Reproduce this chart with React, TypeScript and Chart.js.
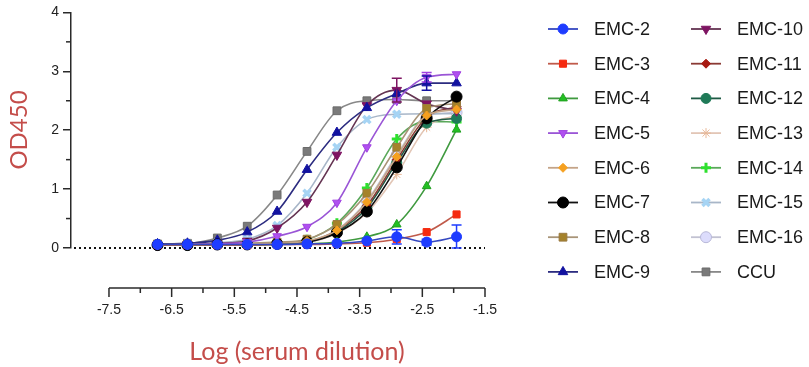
import { useEffect, useRef } from "react";
import { Chart, registerables } from "chart.js";
import { drawPoint } from "chart.js/helpers";
Chart.register(...registerables);

// log10 of serum dilution (1/90, 3-fold series)
const logDilution = [-6.725, -6.248, -5.771, -5.294, -4.817, -4.34, -3.863, -3.385, -2.908, -2.431, -1.954];
const xMajorTicks = [-7.5, -6.5, -5.5, -4.5, -3.5, -2.5, -1.5];
const xMinorTicks = [-7, -6, -5, -4, -3, -2];
const yMinorTicks = [0.5, 1.5, 2.5, 3.5];

const emc2 = [0.06, 0.06, 0.06, 0.06, 0.06, 0.07, 0.08, 0.12, 0.19, 0.1, 0.19];
const emc3 = [0.05, 0.05, 0.05, 0.05, 0.06, 0.06, 0.07, 0.09, 0.15, 0.27, 0.57];
const emc4 = [0.05, 0.05, 0.05, 0.05, 0.06, 0.07, 0.1, 0.19, 0.4, 1.05, 2.01];
const emc5 = [0.05, 0.06, 0.07, 0.1, 0.2, 0.36, 0.77, 1.71, 2.5, 2.9, 2.95];
const emc6 = [0.05, 0.05, 0.06, 0.07, 0.08, 0.12, 0.3, 0.78, 1.55, 2.25, 2.35];
const emc7 = [0.05, 0.05, 0.06, 0.06, 0.07, 0.1, 0.26, 0.62, 1.37, 2.2, 2.57];
const emc8 = [0.06, 0.06, 0.07, 0.08, 0.1, 0.15, 0.4, 0.93, 1.71, 2.37, 2.45];
const emc9 = [0.07, 0.08, 0.13, 0.27, 0.62, 1.33, 1.96, 2.38, 2.62, 2.8, 2.8];
const emc10 = [0.05, 0.06, 0.08, 0.12, 0.34, 0.78, 1.58, 2.42, 2.68, 2.45, 2.33];
const emc11 = [0.05, 0.05, 0.06, 0.07, 0.08, 0.11, 0.3, 0.72, 1.5, 2.22, 2.4];
const emc12 = [0.05, 0.05, 0.06, 0.07, 0.08, 0.11, 0.28, 0.68, 1.45, 2.12, 2.2];
const emc13 = [0.05, 0.05, 0.06, 0.07, 0.08, 0.1, 0.25, 0.6, 1.25, 2.05, 2.25];
const emc14 = [0.05, 0.05, 0.06, 0.07, 0.08, 0.14, 0.42, 1.02, 1.85, 2.15, 2.14];
const emc15 = [0.06, 0.07, 0.09, 0.15, 0.38, 0.93, 1.71, 2.18, 2.27, 2.28, 2.28];
const emc16 = [0.05, 0.05, 0.06, 0.07, 0.08, 0.11, 0.31, 0.8, 1.58, 2.24, 2.3];
const ccu = [0.07, 0.08, 0.17, 0.37, 0.9, 1.64, 2.33, 2.5, 2.52, 2.5, 2.5];

// error (SD) per point, 0 = none
const emc2Err = [0, 0, 0, 0, 0, 0, 0, 0, 0.12, 0.05, 0.2];
const emc9Err = [0, 0, 0, 0, 0, 0, 0, 0, 0, 0.12, 0];
const emc10Err = [0, 0, 0, 0, 0, 0, 0, 0, 0.2, 0, 0];
const emc5Err = [0, 0, 0, 0, 0, 0, 0, 0, 0, 0.08, 0];

type S = {
  label: string; values: number[]; err?: number[];
  fill: string; stroke: string; line: string; style: string; rot?: number; r?: number; bw?: number;
};

const series: S[] = [
  { label: "EMC-2", values: emc2, err: emc2Err, fill: "#1e3cff", stroke: "#1e3cff", line: "#3548c0", style: "circle" },
  { label: "EMC-3", values: emc3, fill: "#f52a10", stroke: "#f52a10", line: "#c05a4a", style: "rect" },
  { label: "EMC-4", values: emc4, fill: "#22c022", stroke: "#22a022", line: "#3f9a3f", style: "triangle" },
  { label: "EMC-5", values: emc5, err: emc5Err, fill: "#b050f0", stroke: "#a040e0", line: "#9a55d6", style: "triangle", rot: 180 },
  { label: "EMC-6", values: emc6, fill: "#f5a020", stroke: "#f5a020", line: "#c4a488", style: "rectRot", r: 4.5 },
  { label: "EMC-7", values: emc7, fill: "#000000", stroke: "#000000", line: "#111111", style: "circle", r: 5.5 },
  { label: "EMC-8", values: emc8, fill: "#a5822a", stroke: "#9a7a40", line: "#a89478", style: "rect", r: 5.5 },
  { label: "EMC-9", values: emc9, err: emc9Err, fill: "#1212a0", stroke: "#1212a0", line: "#2c2c80", style: "triangle", r: 5.5 },
  { label: "EMC-10", values: emc10, err: emc10Err, fill: "#7e1462", stroke: "#7e1462", line: "#643452", style: "triangle", rot: 180, r: 5.5 },
  { label: "EMC-11", values: emc11, fill: "#a81a12", stroke: "#a81a12", line: "#8a3a34", style: "rectRot", r: 4.5 },
  { label: "EMC-12", values: emc12, fill: "#1f7a58", stroke: "#1f7a58", line: "#1e5a44", style: "circle" },
  { label: "EMC-13", values: emc13, fill: "#f2c2a6", stroke: "#e8b898", line: "#e2c6b6", style: "star" },
  { label: "EMC-14", values: emc14, fill: "#2ee02e", stroke: "#2ee02e", line: "#5aa85a", style: "cross", bw: 3 },
  { label: "EMC-15", values: emc15, fill: "#a6d4f4", stroke: "#a6d4f4", line: "#a8b6c8", style: "crossRot", bw: 3.5 },
  { label: "EMC-16", values: emc16, fill: "#dcdcfc", stroke: "#b8b8d8", line: "#c2c2d2", style: "circle", r: 5.5 },
  { label: "CCU", values: ccu, fill: "#7a7a7a", stroke: "#6a6a6a", line: "#888888", style: "rect", r: 5.5 },
];

const RED = "#c44d4a";
const AXIS = "#2a2a2a";

export default function App() {
  const ref = useRef<HTMLCanvasElement | null>(null);
  useEffect(() => {
    document.body.style.margin = "0";
    const canvas = ref.current!;
    const customPlugin = {
      id: "custom",
      beforeDatasetsDraw(chart: any) {
        const { ctx, scales } = chart;
        const x = scales.x, y = scales.y;
        ctx.save();
        ctx.strokeStyle = "#111";
        ctx.lineWidth = 2;
        ctx.setLineDash([2, 3]);
        const yy = y.getPixelForValue(0);
        ctx.beginPath();
        ctx.moveTo(chart.chartArea.left + 3, yy);
        ctx.lineTo(x.getPixelForValue(-1.5), yy);
        ctx.stroke();
        ctx.restore();
      },
      afterDatasetsDraw(chart: any) {
        const { ctx, scales } = chart;
        const x = scales.x, y = scales.y;
        ctx.save();
        chart.data.datasets.forEach((ds: any, di: number) => {
          const err = series[di].err;
          if (!err) return;
          ctx.strokeStyle = series[di].stroke;
          ctx.lineWidth = 1.5;
          err.forEach((e, i) => {
            if (!e) return;
            const px = x.getPixelForValue(logDilution[i]);
            const v = series[di].values[i];
            const top = y.getPixelForValue(v + e);
            const bot = y.getPixelForValue(Math.max(0, v - e));
            ctx.beginPath();
            ctx.moveTo(px, top); ctx.lineTo(px, bot);
            ctx.moveTo(px - 5, top); ctx.lineTo(px + 5, top);
            ctx.moveTo(px - 5, bot); ctx.lineTo(px + 5, bot);
            ctx.stroke();
          });
        });
        ctx.restore();
      },
      afterDraw(chart: any) {
        const { ctx, scales } = chart;
        const x = scales.x, y = scales.y;
        ctx.save();
        ctx.strokeStyle = AXIS;
        ctx.lineWidth = 1.5;
        const yl = chart.chartArea.left;
        yMinorTicks.forEach((v) => {
          const py = y.getPixelForValue(v);
          ctx.beginPath(); ctx.moveTo(yl - 5, py); ctx.lineTo(yl, py); ctx.stroke();
        });
        const ax = 288;
        ctx.beginPath();
        ctx.moveTo(x.getPixelForValue(-7.5), ax);
        ctx.lineTo(x.getPixelForValue(-1.5), ax);
        ctx.stroke();
        xMajorTicks.forEach((v) => {
          const px = x.getPixelForValue(v);
          ctx.beginPath(); ctx.moveTo(px, ax); ctx.lineTo(px, ax + 9); ctx.stroke();
        });
        xMinorTicks.forEach((v) => {
          const px = x.getPixelForValue(v);
          ctx.beginPath(); ctx.moveTo(px, ax); ctx.lineTo(px, ax + 5); ctx.stroke();
        });
        ctx.fillStyle = "#222";
        ctx.font = "14px 'Liberation Sans', Arial, sans-serif";
        ctx.textAlign = "center";
        ctx.textBaseline = "middle";
        xMajorTicks.forEach((v) => {
          ctx.fillText(String(v), x.getPixelForValue(v), 310);
        });
        ctx.fillStyle = RED;
        ctx.font = "25px Lato, 'Open Sans', sans-serif";
        ctx.fillText("Log (serum dilution)", 297, 352);
        ctx.save();
        ctx.translate(19, 130);
        ctx.rotate(-Math.PI / 2);
        ctx.font = "24px Lato, 'Open Sans', sans-serif";
        ctx.fillText("OD450", 0, 0);
        ctx.restore();
        const colX = [548, 691];
        series.forEach((s, i) => {
          const col = Math.floor(i / 8);
          const row = i % 8;
          const cy = 29 + row * 34.7;
          const x1 = colX[col];
          ctx.strokeStyle = s.line;
          ctx.lineWidth = 1.8;
          ctx.beginPath(); ctx.moveTo(x1, cy); ctx.lineTo(x1 + 30, cy); ctx.stroke();
          ctx.fillStyle = s.fill;
          ctx.strokeStyle = s.stroke;
          ctx.lineWidth = s.bw ?? 1;
          drawPoint(ctx, { pointStyle: s.style as any, radius: s.r ?? 5, rotation: s.rot ?? 0, borderWidth: s.bw ?? 1 }, x1 + 15, cy);
          ctx.fillStyle = "#1a1a1a";
          ctx.font = "18px 'Liberation Sans', Arial, sans-serif";
          ctx.textAlign = "left";
          ctx.textBaseline = "middle";
          ctx.fillText(s.label, x1 + 46, cy + 1);
        });
        ctx.restore();
      },
    };

    const chart = new Chart(canvas, {
      type: "line",
      data: {
        datasets: series.map((s) => ({
          label: s.label,
          data: s.values.map((v, i) => ({ x: logDilution[i], y: v })),
          borderColor: s.line,
          borderWidth: 1.6,
          backgroundColor: s.fill,
          pointBackgroundColor: s.fill,
          pointBorderColor: s.stroke,
          pointBorderWidth: s.bw ?? 1,
          pointStyle: s.style as any,
          pointRotation: s.rot ?? 0,
          pointRadius: s.r ?? 5,
          cubicInterpolationMode: "monotone" as const,
          fill: false,
          clip: false as any,
        })),
      },
      options: {
        responsive: false,
        animation: false,
        devicePixelRatio: 1,
        layout: { padding: { left: 0, top: 12, right: 324, bottom: 119 } },
        plugins: { legend: { display: false }, tooltip: { enabled: false } },
        scales: {
          x: { type: "linear", min: -8.106, max: -1.5, display: false },
          y: {
            min: 0, max: 4,
            ticks: { stepSize: 1, color: "#222", font: { family: "'Liberation Sans', Arial, sans-serif", size: 14 }, padding: 4 },
            grid: { drawOnChartArea: false, color: AXIS, tickLength: 8, lineWidth: 1.5 },
            border: { color: AXIS, width: 1.5 },
            afterFit: (scale: any) => { scale.width = 71; },
          },
        },
      },
      plugins: [customPlugin],
    });
    return () => chart.destroy();
  }, []);
  return (
    <div style={{ width: 809, height: 367, position: "relative" }}>
      <canvas ref={ref} width={809} height={367} />
    </div>
  );
}
